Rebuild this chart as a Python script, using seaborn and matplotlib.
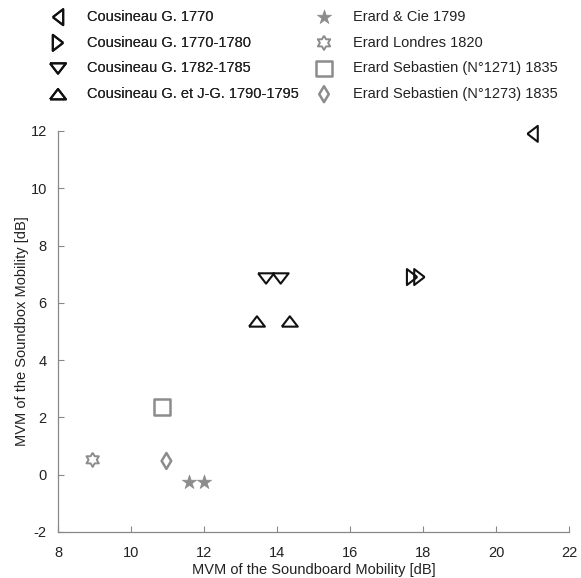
import numpy as np
import matplotlib
matplotlib.use("Agg")
import matplotlib.pyplot as plt
import seaborn as sns

# Values
labels = [
    "Cousineau G. 1770",
    "Cousineau G. 1770-1780",
    "Cousineau G. 1782-1785",
    "Cousineau G. et J-G. 1790-1795",
    "Erard & Cie 1799",
    "Erard Londres 1820",
    "Erard Sebastien (N°1271) 1835",
    "Erard Sebastien (N°1273) 1835",
]
soundboard_mvm = [
    [21.0],
    [17.7, 17.9],
    [13.7, 14.1],
    [13.45, 14.35],
    [11.6, 12.0],
    [8.95],
    [10.85],
    [10.97],
]
soundbox_mvm = [
    [11.9],
    [6.9, 6.9],
    [6.85, 6.85],
    [5.35, 5.35],
    [-0.25, -0.25],
    [0.52],
    [2.38],
    [0.48],
]

BLACK = "#111111"
GREY = "#8c8c8c"

# marker shapes
tri_up = [(-1, -0.65), (1, -0.65), (0, 0.65), (-1, -0.65)]
tri_down = [(-1, 0.65), (1, 0.65), (0, -0.65), (-1, 0.65)]
tri_left = [(-0.65, 0), (0.65, 1), (0.65, -1), (-0.65, 0)]
tri_right = [(0.65, 0), (-0.65, 1), (-0.65, -1), (0.65, 0)]
ang = np.deg2rad(90 + 30 * np.arange(13))
rad = np.where(np.arange(13) % 2 == 0, 1.0, 1 / np.sqrt(3))
hexagram = list(zip(rad * np.cos(ang), rad * np.sin(ang)))

styles = [
    dict(marker=tri_left, s=132, facecolor="none", edgecolor=BLACK, linewidth=1.5),
    dict(marker=tri_right, s=132, facecolor="none", edgecolor=BLACK, linewidth=1.5),
    dict(marker=tri_down, s=132, facecolor="none", edgecolor=BLACK, linewidth=1.5),
    dict(marker=tri_up, s=132, facecolor="none", edgecolor=BLACK, linewidth=1.5),
    dict(marker="*", s=115, color=GREY, edgecolor=GREY, linewidth=0.5),
    dict(marker=hexagram, s=105, facecolor="none", edgecolor=GREY, linewidth=1.4),
    dict(marker="s", s=132, facecolor="none", edgecolor=GREY, linewidth=1.8),
    dict(marker="d", s=66, facecolor="none", edgecolor=GREY, linewidth=1.8),
]

sns.set_style("ticks")
plt.rcParams["font.family"] = ["Liberation Sans", "DejaVu Sans"]
plt.rcParams["font.size"] = 10.5
plt.rcParams["axes.unicode_minus"] = False

fig = plt.figure(figsize=(5.81, 5.78), dpi=100)
ax = fig.add_axes([0.0998, 0.0796, 0.8797, 0.6938])

for lab, xs, ys, st in zip(labels, soundboard_mvm, soundbox_mvm, styles):
    sns.scatterplot(x=xs, y=ys, ax=ax, label=lab, clip_on=False, **st)

ax.set_xlim(8, 22)
ax.set_ylim(-2, 12)
ax.set_xticks(range(8, 23, 2))
ax.set_yticks(range(-2, 13, 2))
ax.set_xlabel("MVM of the Soundboard Mobility [dB]", color="#222222", labelpad=2)
ax.set_ylabel("MVM of the Soundbox Mobility [dB]", color="#222222", labelpad=1)
sns.despine(ax=ax)
for side in ["left", "bottom"]:
    ax.spines[side].set_color("#888888")
    ax.spines[side].set_linewidth(0.9)
ax.tick_params(axis="both", direction="in", length=4, width=0.8, color="#888888",
               labelcolor="#222222", labelsize=10.5)
ax.tick_params(axis="x", pad=10)
ax.tick_params(axis="y", pad=8)

handles, leg_labels = ax.get_legend_handles_labels()
ax.get_legend().remove()
common = dict(frameon=False, loc="upper left", borderpad=0, borderaxespad=0,
              handlelength=1.4, handletextpad=1.3, labelspacing=0.8,
              fontsize=10.5, labelcolor="#222222")
leg1 = fig.legend(handles[:4], leg_labels[:4], bbox_to_anchor=(47.8 / 581, 1 - 10 / 578), **common)
leg2 = fig.legend(handles[4:], leg_labels[4:], bbox_to_anchor=(313.8 / 581, 1 - 10 / 578), **common)
fig.add_artist(leg1)

fig.savefig("out.png", dpi=100)
plt.close(fig)
